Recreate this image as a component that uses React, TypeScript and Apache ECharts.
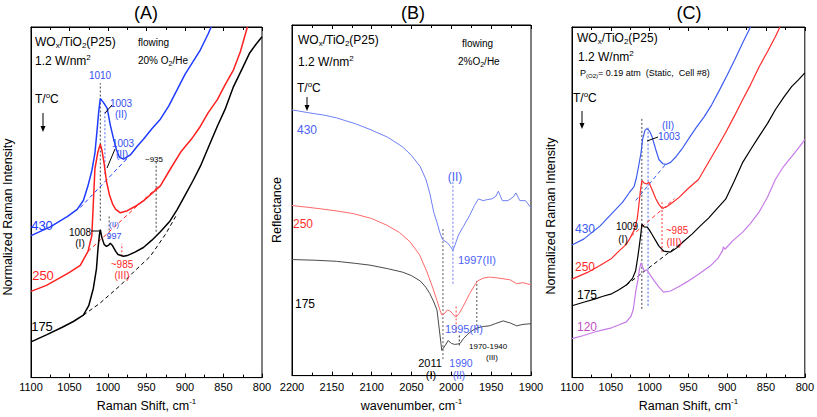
import React, { useEffect, useRef } from "react";
import * as echarts from "echarts";

type P = [number, number];
const FONT = "'Liberation Sans', Arial, sans-serif";

// ---------- axis ranges ----------
const ramanRange: P = [800, 1100];
const irRange: P = [1900, 2200];
const tickStep = 50;

// ---------- Panel A: Raman, flowing 20% O2/He ----------
const a430: P[] = [[1100,40.5],[1075,43],[1053,45.9],[1040,48],[1032,50.5],[1026,54.7],[1021,59],[1017,64],[1014,71],[1012,76],[1010,79.6],[1006,78.5],[1001,76.8],[997,72],[993,68.3],[989,65],[985,62.8],[980,62.3],[971,63.5],[962,66],[954,68],[943,71],[932,73.7],[921,77.5],[910,82.2],[900,86.5],[890,90],[880,93.5],[870,98],[866,100]];
const a250: P[] = [[1100,24.6],[1080,26.3],[1062,28.5],[1050,30],[1036,32],[1026,36],[1021,40.5],[1019,50],[1017,59.5],[1013,64.5],[1010,66.6],[1008,65],[1005,61],[1002,56],[998,52],[994,49.5],[990,48],[984,47],[975,47.6],[965,48.8],[954,50.4],[943,52.5],[932,54.7],[919,59.5],[905,64.5],[890,68.5],[880,71.7],[870,75.5],[858,79.3],[848,83.5],[837,87.8],[828,93],[819,100]];
const a175: P[] = [[1100,10.2],[1080,12.2],[1060,14.3],[1045,16],[1032,17.8],[1025,20.5],[1019,25.5],[1015,31],[1013,36.8],[1011,41],[1010,42.2],[1008,40],[1005,38],[1002,37.4],[999,37.8],[997,38.3],[994,37.6],[990,36],[987,35.1],[980,34.6],[975,34.8],[965,35.8],[954,37.1],[943,39.2],[932,41.6],[920,44.5],[910,48],[900,52],[890,56],[880,60.3],[870,65.5],[858,71.7],[848,76.5],[837,83],[826,88],[816,92.6],[808,95],[800,97.2]];
const a430Base: P[] = [[1036,48.5],[973,63]];
const a250Base: P[] = [[1026,36],[935,54.5]];
const a175Base: P[] = [[1032,17.8],[1010,21.3],[984,26.3],[965,30.5],[945,34.6],[925,41],[912,46]];
// vertical band markers: [wavenumber, from, to]
const aMarks: [number, number, number][] = [[1010,44.8,84],[1004,58,76],[998.5,39.7,46.2],[982,34.6,38.2],[937.5,41.6,61.8]];
const aMarkColors = ["#444", "#5566ff", "#444", "#ff3030", "#444"];

// ---------- Panel B: DRIFTS, flowing 2% O2/He ----------
const b430: P[] = [[2200,75.8],[2180,75],[2160,74.3],[2144,73.5],[2120,71.8],[2102,70.2],[2080,68],[2061,65.2],[2050,62.8],[2039,59.6],[2032,56],[2027,52],[2022,46.5],[2018,43.7],[2014,40.5],[2011,38.8],[2005,37.9],[2001,36.8],[1998,35.7],[1995,37.5],[1991,40.1],[1985,42.5],[1977,45.7],[1971,48.5],[1966,50.4],[1960,49.9],[1955,50.2],[1949,50.4],[1944,51.2],[1941,52.6],[1938,51],[1936,49.9],[1929,49.9],[1922,51],[1919,52.1],[1914,49.9],[1907,49.9],[1900,47.9]];
const b250: P[] = [[2200,48.5],[2180,48],[2165,47.6],[2145,47],[2123,46.2],[2100,44.8],[2081,42.9],[2065,40.8],[2052,38.2],[2040,34.5],[2031,29.8],[2024,25.5],[2018,21.4],[2014,18.5],[2012,17.3],[2009,17.6],[2005,18.7],[2002,18.5],[1999,17.8],[1996,17],[1994,16.7],[1990,17.8],[1985,19.8],[1977,23.4],[1970,26],[1967,27],[1960,27.8],[1952,28.1],[1940,27.8],[1926,27.3],[1918,26.2],[1910,26.5],[1900,25.9]];
const b175: P[] = [[2200,33.1],[2170,32.9],[2144,32.6],[2120,32],[2102,31.5],[2080,30.5],[2061,29.5],[2050,28.5],[2039,27],[2032,25.2],[2027,23.4],[2022,21],[2018,18.7],[2015,13],[2012,7.2],[2008,8.5],[2004,10],[2000,9.2],[1996,8.9],[1992,9],[1989,9.2],[1985,10.5],[1980,11.7],[1974,12.8],[1968,13.6],[1960,14],[1952,14.2],[1945,14.8],[1935,15.6],[1926,15],[1918,14.2],[1910,14.6],[1900,14.8]];
const bMarks: [number, number, number][] = [[2010.5,4.7,42.3],[1998,26.2,55.4],[1994,12.3,19.8],[1990,8.6,11.7],[1968,13,27]];
const bMarkColors = ["#555", "#6677ff", "#ff4040", "#333", "#555"];

// ---------- Panel C: Raman, static P(O2)=0.19 atm ----------
const c430: P[] = [[1100,37.8],[1085,39.5],[1064,43.2],[1047,47.2],[1035,50],[1026,52.8],[1020,54.5],[1017,57],[1014,60.5],[1011,64.2],[1009,68],[1006,70.5],[1003.5,71],[1000,70.3],[997,68.8],[992,65],[988,62.2],[983,61],[979,60.8],[973,61.4],[966,63],[959,65],[950,68],[940,71.3],[930,74.3],[920,77.8],[910,82],[900,86.3],[890,90.8],[880,95.5],[870,100]];
const c250: P[] = [[1100,28.1],[1080,30],[1064,32],[1049,34],[1040,36],[1030,38],[1026,39.5],[1020,42],[1016,45.2],[1014,48.9],[1012,53],[1010,56.2],[1007,55.5],[1004,55.2],[1001,55.7],[997,53.7],[992,51],[988,49.4],[984,48.3],[979,48.6],[970,50],[962,51.4],[950,54],[937,56.5],[922,62.2],[912,66],[902,69.9],[891,74.5],[880,79.3],[870,83.5],[859,88.6],[848,93],[838,97.2],[832,100]];
const c175: P[] = [[1100,20.5],[1085,21.5],[1071,22.4],[1060,23.2],[1049,23.9],[1040,25],[1030,26.4],[1022,28.3],[1018,30.5],[1015,34.7],[1013,38],[1011,41.5],[1010,43.8],[1007,43],[1003,42.9],[1000,42],[997,40.9],[992,39],[988,37.5],[982,36.1],[973,35.8],[965,37],[956,38.9],[945,41],[935,43.2],[924,45.5],[914,48],[902,50.9],[891,56],[880,61.4],[870,65],[859,68.8],[848,72.5],[838,76.4],[827,80],[817,83],[808,85],[800,86.9]];
const c120: P[] = [[1100,11.1],[1085,12],[1071,13],[1060,13.6],[1049,14.2],[1040,15],[1030,15.9],[1024,17.5],[1021,19.5],[1018,24.4],[1015,28],[1013,31],[1011,32.7],[1009,31.5],[1007,30.4],[1003,30.7],[1000,29.5],[994,27.6],[988,25.8],[982,24.4],[973,24.7],[962,26],[952,27.3],[937,29.5],[922,31.8],[912,34],[906,36.2],[905,37.3],[903,36.6],[893,39],[880,41.5],[870,44],[859,47.2],[848,51.5],[838,56.5],[828,60],[817,63],[808,65.5],[800,67.9]];
const c430Base: P[] = [[1018,50.5],[978,61.2]];
const c250Base: P[] = [[1024,40.3],[968,51]];
const c175Base: P[] = [[1030,26.4],[956,38.9]];
const cMarks: [number, number, number][] = [[1010,19.6,74],[1002,20.5,71.3],[984,35.8,50]];
const cMarkColors = ["#444", "#4466ff", "#ff3030"];

const rich = (s: number) => ({
  sub: { fontSize: Math.round(s * 0.68), fontFamily: FONT, padding: [Math.round(s * 0.6), 0, 0, 0] },
  sup: { fontSize: Math.round(s * 0.68), fontFamily: FONT, padding: [0, 0, Math.round(s * 0.6), 0] },
});

function txt(x: number, y: number, text: string, size: number, fill: string, align = "left", extra: any = {}) {
  return {
    type: "text", x, y, silent: true, z: 100, ...extra,
    style: { text, fontSize: size, fontFamily: FONT, fill, align, verticalAlign: "middle", rich: rich(size) },
  };
}
function seg(x1: number, y1: number, x2: number, y2: number, stroke: string) {
  return { type: "line", silent: true, z: 100, shape: { x1, y1, x2, y2 }, style: { stroke, lineWidth: 1 } };
}
function arrow(x: number, y1: number, y2: number) {
  return [
    seg(x, y1, x, y2 - 3, "#000"),
    { type: "polygon", silent: true, z: 100, shape: { points: [[x - 2.5, y2 - 6], [x + 2.5, y2 - 6], [x, y2]] }, style: { fill: "#000" } },
  ];
}

function xAxes(gridIndex: number, range: P, name: string, margin: number, nameGap: number) {
  const common: any = {
    type: "value", gridIndex, min: range[0], max: range[1], inverse: true, interval: tickStep,
    axisLine: { show: true, lineStyle: { color: "#000", width: 1 } },
    axisTick: { show: true, inside: true, length: 4, lineStyle: { color: "#000" } },
    minorTick: { show: true, splitNumber: 2, length: 3, lineStyle: { color: "#000" } },
    splitLine: { show: false }, minorSplitLine: { show: false },
  };
  return [
    {
      ...common, position: "bottom",
      axisLabel: { show: true, fontSize: 11, color: "#000", margin, fontFamily: FONT, showMinLabel: true, showMaxLabel: true, formatter: (v: number) => String(v) },
      name, nameLocation: "middle", nameGap,
      nameTextStyle: { fontSize: 12.5, color: "#000", fontFamily: FONT, rich: { sup: { fontSize: 8, fontFamily: FONT, padding: [0, 0, 8, 0] } } },
    },
    { ...common, position: "top", axisLabel: { show: false } },
  ];
}
function yAxis(gridIndex: number) {
  return {
    type: "value", gridIndex, min: 0, max: 100,
    axisLine: { show: true, lineStyle: { color: "#000" } }, axisTick: { show: false },
    axisLabel: { show: false }, splitLine: { show: false },
  };
}

function line(xi: number, yi: number, data: P[], color: string, width: number, type: any = "solid") {
  return {
    type: "line", xAxisIndex: xi, yAxisIndex: yi, data, showSymbol: false, symbol: "none",
    lineStyle: { color, width, type }, silent: true, z: 3,
  };
}
function marks(xi: number, yi: number, m: [number, number, number][], colors: string[]) {
  return m.map((v, i) => line(xi, yi, [[v[0], v[1]], [v[0], v[2]]], colors[i], 1, [2, 2]));
}

export default function App() {
  const ref = useRef<HTMLDivElement>(null);
  useEffect(() => {
    if (!ref.current) return;
    const chart = echarts.init(ref.current, undefined, { renderer: "svg" });
    const blueA = "#1f3cff", redA = "#ff1f1f";
    const blueB = "#6f80f2", redB = "#ff6a6a", blackB = "#4a4a4a";
    const blueC = "#3d5cf0", redC = "#ff2a2a", violet = "#c77be8";
    const lblBlue = "#3550f0";
    const graphic: any[] = [
      // titles
      txt(146, 13, "(A)", 18, "#000", "center"),
      txt(413, 13, "(B)", 18, "#000", "center"),
      txt(689, 13, "(C)", 18, "#000", "center"),
      // y titles
      txt(8, 217, "Normalized Raman Intensity", 12.5, "#000", "center", { rotation: Math.PI / 2 }),
      txt(277, 210, "Reflectance", 12.5, "#000", "center", { rotation: Math.PI / 2 }),
      txt(551, 216, "Normalized Raman Intensity", 12.5, "#000", "center", { rotation: Math.PI / 2 }),
      // Panel A
      txt(35, 42, "WO{sub|x}/TiO{sub|2}(P25)", 12, "#000"),
      txt(35, 61, "1.2 W/nm{sup|2}", 12, "#000"),
      txt(35, 99, "T/{sup|o}C", 12, "#000"),
      ...arrow(43, 113, 132),
      txt(138, 42, "flowing", 10, "#000"),
      txt(138, 60, "20% O{sub|2}/He", 10, "#000"),
      txt(100, 75, "1010", 10, lblBlue, "center"),
      txt(121, 103, "1003", 10, lblBlue, "center"),
      txt(121, 114, "(II)", 10, lblBlue, "center"),
      seg(105, 113, 112, 105, "#000"),
      txt(123, 143, "1003", 10, lblBlue, "center"),
      txt(122, 154, "(II)", 10, lblBlue, "center"),
      seg(107, 168, 115, 149, "#000"),
      txt(154, 159, "~935", 8, "#000", "center"),
      txt(80, 232, "1008", 10, "#000", "center"),
      txt(80, 243, "(I)", 10, "#000", "center"),
      seg(91, 231, 100, 231, "#000"),
      txt(114, 224, "(II)", 8, lblBlue, "center"),
      txt(114, 236, "997", 9, lblBlue, "center"),
      txt(122, 264, "~985", 10, redA, "center"),
      txt(122, 275, "(III)", 10, redA, "center"),
      txt(42, 225, "430", 13, blueA, "center"),
      txt(43, 275, "250", 13, redA, "center"),
      txt(42, 326, "175", 13, "#000", "center"),
      // Panel B
      txt(298, 40, "WO{sub|x}/TiO{sub|2}(P25)", 12, "#000"),
      txt(298, 62, "1.2 W/nm{sup|2}", 12, "#000"),
      txt(297, 88, "T/{sup|o}C", 12, "#000"),
      ...arrow(307, 97, 111),
      txt(462, 43, "flowing", 10, "#000"),
      txt(458, 61, "2%O{sub|2}/He", 10, "#000"),
      txt(297, 130, "430", 12, "#4b5ff5"),
      txt(455, 177, "(II)", 12, "#4b5ff5", "center"),
      txt(293, 224, "250", 12, "#ff3030"),
      txt(458, 260, "1997(II)", 11, "#4b5ff5"),
      txt(295, 304, "175", 12, "#000"),
      txt(445, 329, "1995(II)", 11, "#4b5ff5"),
      txt(469, 346, "1970-1940", 8, "#000"),
      txt(492, 357, "(III)", 8, "#000", "center"),
      txt(430, 363, "2011", 11, "#000", "center"),
      txt(431, 375, "(I)", 11, "#000", "center"),
      txt(461, 363, "1990", 10.5, "#4b5ff5", "center"),
      txt(459, 375, "(II)", 10, "#4b5ff5", "center"),
      // Panel C
      txt(577, 38, "WO{sub|x}/TiO{sub|2}(P25)", 12, "#000"),
      txt(578, 57, "1.2 W/nm{sup|2}", 12, "#000"),
      txt(580, 73, "P{sub|(O2)}= 0.19 atm  (Static,  Cell #8)", 9, "#000"),
      txt(573, 98, "T/{sup|o}C", 12, "#000"),
      ...arrow(582, 111, 129),
      txt(668, 125, "(II)", 10, lblBlue, "center"),
      txt(669, 136, "1003", 10, lblBlue, "center"),
      seg(647, 141, 658, 137, "#000"),
      txt(575, 229, "430", 12, blueC),
      txt(627, 226, "1009", 10, "#000", "center"),
      txt(623, 239, "(I)", 10, "#000", "center"),
      txt(677, 230, "~985", 10, redC, "center"),
      txt(674, 242, "(III)", 10, redC, "center"),
      txt(575, 267, "250", 12, redC),
      txt(577, 295, "175", 12, "#000"),
      txt(577, 327, "120", 12, "#c050c0"),
    ];
    const ax = [
      ...xAxes(0, ramanRange, "Raman Shift, cm{sup|-1}", 4, 17),
      ...xAxes(1, irRange, "wavenumber, cm{sup|-1}", 6, 19),
      ...xAxes(2, ramanRange, "Raman Shift, cm{sup|-1}", 4, 17),
    ];
    chart.setOption({
      animation: false,
      backgroundColor: "#fff",
      grid: [
        { left: 31, top: 27, width: 231, height: 353, show: true, borderColor: "#000", borderWidth: 1, backgroundColor: "transparent" },
        { left: 292, top: 25, width: 239, height: 359, show: true, borderColor: "#000", borderWidth: 1, backgroundColor: "transparent" },
        { left: 572, top: 27, width: 236, height: 352, show: true, borderColor: "#000", borderWidth: 1, backgroundColor: "transparent" },
      ],
      xAxis: ax,
      yAxis: [yAxis(0), yAxis(1), yAxis(2)],
      series: [
        ...marks(0, 0, aMarks, aMarkColors),
        line(0, 0, a430Base, blueA, 1, [4, 3]),
        line(0, 0, a250Base, redA, 1, [4, 3]),
        line(0, 0, a175Base, "#000", 1, [4, 3]),
        line(0, 0, a430, blueA, 1.5),
        line(0, 0, a250, redA, 1.5),
        line(0, 0, a175, "#000", 1.5),
        ...marks(2, 1, bMarks, bMarkColors),
        line(2, 1, b430, blueB, 1),
        line(2, 1, b250, redB, 1),
        line(2, 1, b175, blackB, 1),
        ...marks(4, 2, cMarks, cMarkColors),
        line(4, 2, c430Base, blueC, 1, [4, 3]),
        line(4, 2, c250Base, redC, 1, [4, 3]),
        line(4, 2, c175Base, "#000", 1, [4, 3]),
        line(4, 2, c430, blueC, 1.2),
        line(4, 2, c250, redC, 1.2),
        line(4, 2, c175, "#000", 1.2),
        line(4, 2, c120, violet, 1.2),
      ],
      graphic,
    });
    return () => chart.dispose();
  }, []);
  return <div ref={ref} style={{ position: "fixed", left: 0, top: 0, width: 817, height: 417, background: "#fff" }} />;
}
